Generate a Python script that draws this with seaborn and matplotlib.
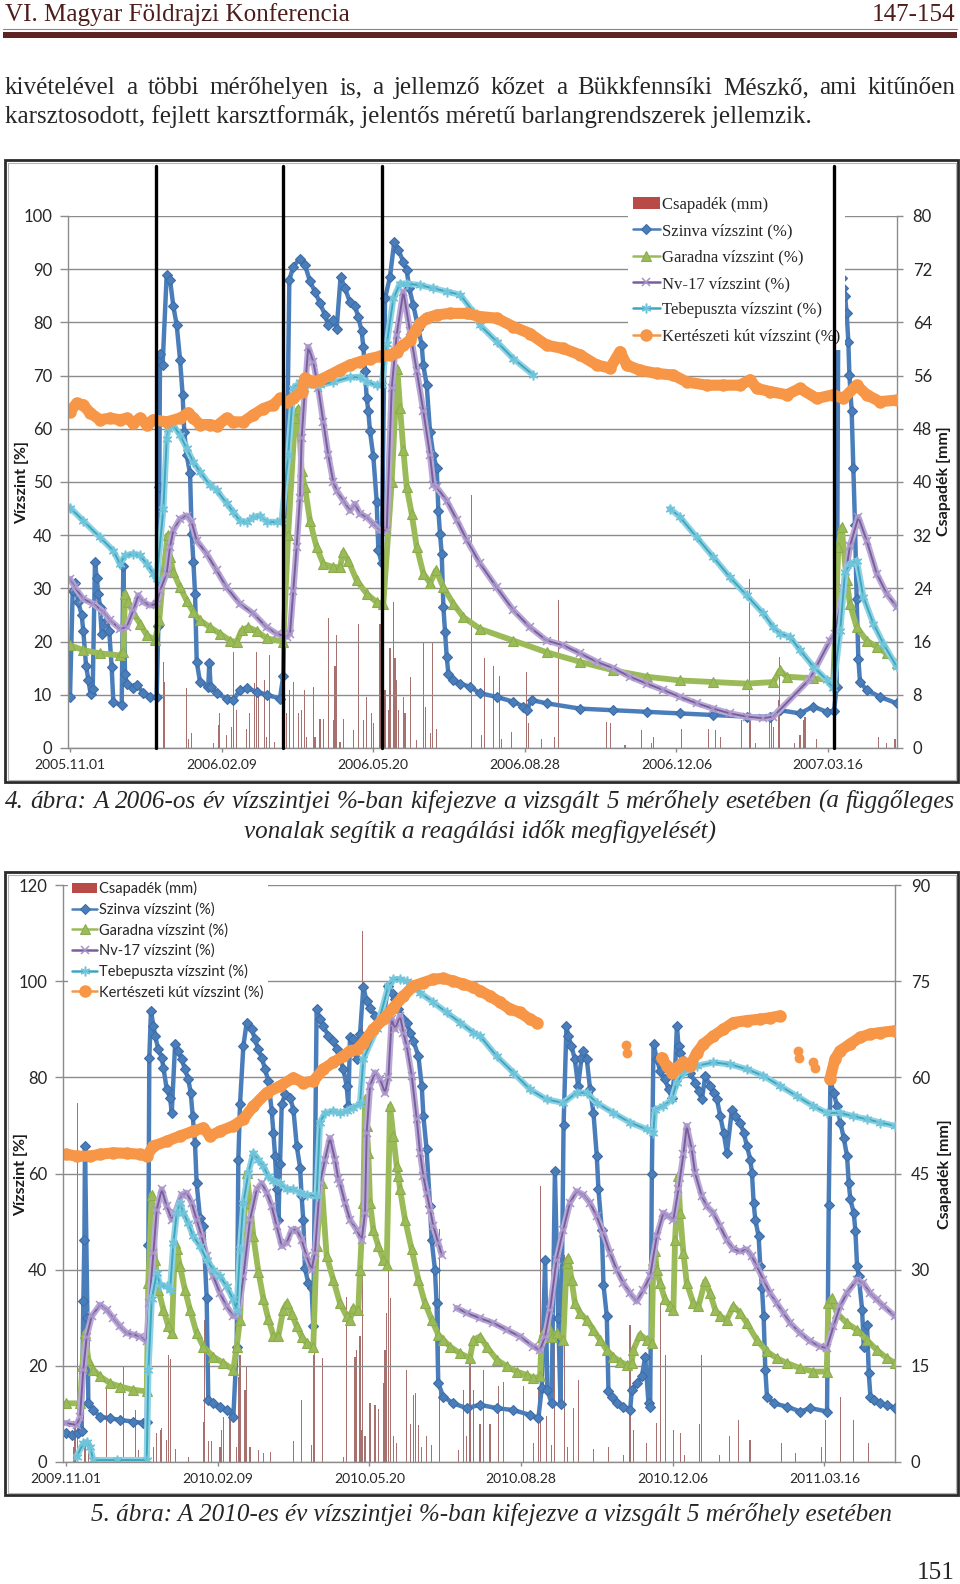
import matplotlib
matplotlib.use('Agg')
import matplotlib.pyplot as plt
import seaborn as sns
from matplotlib.lines import Line2D
from matplotlib.patches import Patch, Rectangle

# ---------------- page text ----------------
header_left = 'VI. Magyar Földrajzi Konferencia'
header_right = '147-154'
body_lines = ['kivételével a többi mérőhelyen is, a jellemző kőzet a Bükkfennsíki Mészkő, ami kitűnően',
              'karsztosodott, fejlett karsztformák, jelentős méretű barlangrendszerek jellemzik.']
caption4 = ['4. ábra: A 2006-os év vízszintjei %-ban kifejezve a vizsgált 5 mérőhely esetében (a függőleges',
            'vonalak segítik a reagálási idők megfigyelését)']
caption5 = '5. ábra: A 2010-es év vízszintjei %-ban kifejezve a vizsgált 5 mérőhely esetében'
page_number = '151'

# ---------------- chart data ----------------
# x = days after the first tick date, series in %, precipitation in mm
tick_days = [0, 100, 200, 300, 400, 500]
ticks_2006 = ['2005.11.01', '2006.02.09', '2006.05.20', '2006.08.28', '2006.12.06', '2007.03.16']
ticks_2010 = ['2009.11.01', '2010.02.09', '2010.05.20', '2010.08.28', '2010.12.06', '2011.03.16']
legend_labels = ['Csapadék (mm)', 'Szinva vízszint (%)', 'Garadna vízszint (%)', 'Nv-17 vízszint (%)',
                 'Tebepuszta vízszint (%)', 'Kertészeti kút vízszint (%)']
reaction_days_2006 = [56.5, 140.7, 206, 504]

szinva_2006 = [(0,9.5),(1.8,29.6),(3.3,31),(5.5,27.4),(7.7,25),(8.8,22),(10.6,15.5),(12.1,12.8),(13.6,10.2),(15,11),
    (16.5,35),(17.6,32),(18.7,29),(19.8,26.5),(20.9,21.5),(24.2,24),(25.9,22),(27.5,15.2),(28.6,8.7),(34.1,8),
    (35.2,34.3),(36.3,14),(37.4,12),(41.8,11.2),(44.4,11.8),(48.4,10.3),(52.8,9.6),(57.2,9.5),(58.3,23),(58.9,49),
    (59.4,74),(61.1,72),(63.8,89),(66,88),(68.2,83),(70.4,79.5),(72.6,73),(74.3,66.4),(75.4,59.4),(77,55),
    (79.2,51.6),(80.3,40.2),(81.4,35),(82.5,29),(83.6,16.2),(85.8,12.4),(91.2,11.5),(91.9,15.9),(92.8,11.5),
    (96.7,10.3),(103.3,9.3),(107.7,9),(112.1,10.9),(116.5,11.2),(123.1,10.6),(129.7,10),(138.5,9.3),(140.7,13.6),
    (142.9,50),(144.7,88),(147.3,90.5),(151.7,92),(155,90.8),(158.3,87.7),(161.6,85.8),(164.9,83.6),(168.2,81.4),
    (170.4,79.5),(173.7,80.5),(175.9,78.8),(178.5,88.6),(181.4,86.4),(184.7,83.8),(188,83),(190.2,81),(192.4,78.3),
    (193.5,75.4),(194.6,70.9),(195.7,65.8),(196.8,63.3),(197.9,59.5),(200.1,54.8),(202.3,46.3),(203.4,37.2),
    (205.6,34.7),(207.8,84.5),(211.1,88.6),(213.9,95.2),(216.6,93.6),(219.9,91.4),(222.1,89.8),(223.8,86.4),
    (226.5,83.2),(229.8,78.8),(232,75.7),(233.1,71.9),(235.3,68.2),(237.5,59.4),(239.7,55),(241.9,52.6),(243,44.6),
    (244.1,40.2),(245.2,36.5),(246.3,26.5),(247.4,21.8),(248.5,17.1),(249.6,14),(252.9,12.8),(257.3,12.1),
    (263.9,11.5),(270.4,10.3),(281.4,9.6),(292.4,8.7),(299,7.8),(301.2,7.1),(304.5,9),(314.4,8.4),(336.4,7.4),
    (358.4,7.1),(380.4,6.8),(402.4,6.5),(424.3,6.2),(446.3,5.9),(461.7,5.9),(468.3,7.1),(481.5,6.5),(490.3,7.8),
    (499.1,6.8),(504,7),(505.7,11.5),(506.8,83.6),(509,88.3),(510.1,86.4),(511.2,85),(512.3,81.7),(513.4,76.4),
    (514.1,70.1),(515.6,63.3),(516.7,52.6),(517.8,42),(518.9,28),(520,16.8),(521.1,12.4),(525.5,10.9),(534.3,9.6),
    (545.3,8.4)]
garadna_2006 = [(0,19.3),(8.8,18.4),(19.8,17.8),(33,17.4),(35.2,18),(36.3,29),(38.5,27.4),(41.8,25.3),(46.2,23.4),
    (50.6,21.2),(56.1,20.3),(58.9,24),(61.6,33),(64.4,40),(66,35.9),(68.2,33),(72.6,30.2),(77,27.7),(81.4,25.5),
    (85.8,24),(92.3,22.7),(98.9,21.5),(105.5,20.2),(109.9,19.9),(113.2,22.1),(117.6,22.7),(123.1,22),(129.7,20.6),
    (140.7,20),(143.9,40),(148.4,62),(150.6,63.8),(152.8,52),(155,49),(158.3,42.7),(162.7,37.7),(167.1,34.6),
    (173.7,34),(178.1,34),(180.3,36.8),(183.6,35.2),(189.1,31.5),(195.7,29),(202.3,27.4),(206.7,27.1),(212.2,50),
    (215.9,71.3),(217.7,64),(219.9,56),(222.1,49),(225.4,44),(228.7,37.8),(233.1,32.8),(237.5,31),(241.4,33.4),
    (246.3,30.2),(252.9,27.1),(259.5,24.6),(270.4,22.4),(292.4,20.2),(314.4,18),(336.4,16.2),(358.4,14.6),
    (380.4,13.4),(402.4,12.7),(424.3,12.4),(446.3,12.1),(464,12.4),(468.3,14.6),(472.7,13.4),(490.3,13.1),
    (503.5,12.7),(506.8,37.7),(509,41.5),(512.3,31.5),(514.5,27),(518.9,22.7),(525.5,20.2),(532.1,19),(538.7,17.8),
    (545.3,15.9)]
nv17_2006 = [(0,31.8),(3.3,30.2),(8.8,28),(15.4,27.1),(22,25.6),(26.4,24),(33,22.4),(37.4,22.7),(41.8,25.9),
    (45.1,28.7),(48.4,27.4),(52.8,26.8),(57.2,27.1),(59.4,29.6),(63.8,32.8),(66,37.8),(68.2,40.9),(72.6,43.1),
    (77,43.7),(80.3,42.4),(83.6,39),(90.2,36.5),(96.7,33.4),(103.3,30.2),(112.1,27.1),(120.9,25.3),(129.7,22.7),
    (136.3,21.5),(142.9,20.9),(145.1,21.5),(147.3,29.6),(149.5,37.8),(151.7,47),(152.8,58.2),(155,67.6),(157.2,75.4),
    (160.5,72.6),(163.8,67.6),(167.1,61.3),(170.4,55),(173.7,50),(175.9,48.4),(180.3,46.5),(184.7,44.6),(188,45.9),
    (191.3,44),(195.7,43.4),(200.1,42.1),(204.5,40.9),(208.9,40.9),(212.2,67.6),(215.5,77.7),(219.9,85.8),
    (224.3,78.3),(228.7,70.9),(233.1,63.3),(237.5,55),(239.7,49.4),(241.9,49),(248.5,46.5),(255.1,42.9),
    (261.7,39.1),(270.4,34.7),(281.4,30.2),(292.4,25.9),(303.4,22.7),(314.4,20.2),(325.4,19.3),(336.4,17.8),
    (347.4,16.2),(358.4,15),(369.4,13.4),(380.4,12.1),(391.4,10.9),(402.4,9.6),(413.4,8.4),(424.3,7.4),(435.3,6.5),
    (446.3,5.9),(457.3,5.6),(463.9,5.9),(488.1,13),(501.3,20.2),(504.6,21.5),(510.1,30),(514.5,38),(520,43.4),
    (525.5,39),(532.1,32.8),(538.7,29),(545.3,26.5)]
tebe_2006_a = [(0,45.2),(8.8,42.7),(19.8,39.6),(28.6,37.1),(33,34.6),(36.3,36.2),(41.8,36.5),(46.2,36.2),
    (50.6,34.6),(55,32.8),(57.2,31.8),(61.6,45),(63.8,58),(64.9,60),(68.2,60.7),(72.6,58.8),(77,56.3),(81.4,53.8),
    (85.8,51.9),(92.3,49.4),(96.7,48.5),(103.3,46),(107.7,44.4),(112.1,42.7),(116.5,42.5),(120.9,43.4),(125.3,43.7),
    (129.7,42.5),(136.3,42.5),(139.6,42.7),(143.9,55),(147.3,67.6),(151.7,68.8),(156.1,68.2),(164.9,68.2),
    (173.7,68.8),(184.7,69.7),(191.3,69.7),(195.7,68.8),(202.3,68.2),(205.6,68.2),(209,76),(213.3,84.5),
    (217.7,87.3),(222.1,87.3),(230.9,87),(239.7,86.4),(248.5,85.8),(257.3,85.2),(266,82),(270.4,79.5),(281.4,76.4),
    (292.4,73.2),(305.6,70.1)]
tebe_2006_b = [(395.8,45),(402.4,43.4),(413.4,39.6),(424.3,35.9),(435.3,32.1),(446.3,28.7),(457.3,25.3),
    (463.9,22.7),(468.3,21.5),(474.9,20.9),(481.5,18.4),(490.3,15.3),(499.1,12.8),(503.5,11.2),(508,22),(511.2,33),
    (514.5,34.6),(519,35.2),(523.3,28.4),(529.9,23.4),(536.5,19.6),(545.3,15.3)]
kert_2006 = [(0,63.2),(4.4,64.8),(8.8,64.5),(13.2,63),(19.8,61.7),(26.4,62),(33,61.7),(37.4,62),(41.8,61.1),
    (46.2,62),(50.6,60.8),(55,61.7),(63.8,61.3),(72.6,62),(78.1,63),(81.4,62),(85.8,60.8),(92.3,60.8),(96.7,60.5),
    (103.3,62),(107.7,61.3),(114.3,61.3),(120.9,62.6),(127.5,63.8),(134.1,64.5),(138.5,65.7),(142.9,65),
    (147.3,65.7),(152.8,67),(155,69.5),(160.5,68.8),(164.9,69.2),(171.5,70.1),(178.1,71.1),(184.7,72),(191.3,72.6),
    (197.9,73.2),(204.5,73.6),(211.1,73.9),(215.5,74.5),(219.9,75.7),(224.3,76.7),(227.6,78.3),(230.9,79.8),
    (235.3,80.8),(241.9,81.4),(250.7,81.7),(261.7,81.7),(270.4,81.1),(281.4,80.8),(292.4,79.2),(303.4,77.9),
    (314.4,75.7),(325.4,75.1),(336.4,73.9),(347.4,72),(356.2,71.4),(362.8,74.5),(367.2,72),(376,71),(387,70.4),
    (398,70.1),(406.8,68.8),(420,68.2),(431,68.2),(442,68.2),(448.6,69.2),(453,67.6),(461.8,67),(472.8,66.4),
    (481.5,67.6),(492.5,65.7),(503.5,66.4),(510.1,65.7),(518.9,68.2),(525.5,66.4),(534.3,65.1),(545.3,65.4)]
rain_2006 = [(61.6,13.0),(62.2,9.9),(77.0,9.0),(78.1,1.4),(80.3,2.2),(94.5,0.7),(97.8,3.4),(98.9,5.2),(103.3,2.0),
    (106.6,3.2),(107.7,14.5),(109.9,5.7),(116.5,2.9),(118.7,5.2),(122.0,9.7),(123.1,14.5),(124.2,7.7),(128.6,10.2),
    (129.7,1.7),(131.9,14.0),(135.2,0.9),(142.9,5.2),(145.1,8.7),(147.3,9.9),(150.6,5.2),(152.8,5.7),(155.0,8.7),
    (156.1,1.7),(160.5,9.2),(161.6,1.7),(164.9,4.4),(167.1,4.4),(170.4,19.5),(173.7,4.2),(174.8,12.4),(175.9,17.0),
    (178.1,0.9),(180.3,4.4),(186.9,2.7),(190.2,18.7),(193.5,4.2),(195.7,7.7),(199.0,5.2),(200.1,3.7),(204.5,18.7),
    (207.8,8.7),(210.0,5.7),(211.1,15.0),(213.3,22.0),(214.4,13.5),(215.5,10.2),(216.6,5.7),(219.9,7.7),(221.0,5.2),
    (224.3,10.7),(228.7,1.2),(233.1,16.0),(234.2,6.2),(237.5,2.2),(239.0,16.0),(241.9,2.9),(264.9,38.0),(271.5,1.9),
    (273.7,13.5),(279.2,12.4),(283.6,10.9),(284.7,1.4),(291.3,2.4),(301.2,11.5),(302.3,3.7),(311.1,1.4),(319.9,1.7),
    (322.1,22.2),(354.0,3.9),(356.6,3.7),(366.1,0.4),(377.1,2.7),(383.7,0.7),(384.8,1.7),(403.5,2.9),(421.1,2.9),
    (425.5,2.7),(428.8,1.7),(443.1,4.2),(448.2,25.4),(448.6,4.2),(451.9,0.7),(461.7,4.2),(462.8,4.7),(463.9,3.2),
    (467.2,7.2),(468.3,13.7),(478.2,0.7),(481.5,1.9),(483.7,4.2),(484.8,4.7),(492.5,1.4),(503.5,2.7),(533.2,1.7),
    (538.7,0.7),(544.2,1.4)]

szinva_2010 = [(0,6),(3.7,5.6),(8.1,6),(10.3,6.5),(11.4,33.4),(12.1,46.2),(12.5,65.7),(14.1,30),(14.7,12.2),
    (18,10.8),(22.4,9.4),(29,9.1),(35.6,8.75),(44.4,8.4),(51,8.1),(53.2,8.4),(54.3,45.2),(54.9,84),(56,93.8),
    (57.6,90.7),(58.7,88.6),(60.9,85.8),(63.1,84.1),(64.2,82),(66.4,77.5),(68.6,75.8),(69.7,72.6),(71.9,86.9),
    (74,85.5),(76.2,83.8),(78.4,81.7),(80.6,79.6),(82.2,76.8),(83.5,71.9),(85,66.4),(86.1,58),(88.3,50.8),(90.5,49),
    (92.7,34.1),(93.8,12.9),(97.1,12.2),(101.5,11.5),(105.9,10.8),(110.3,9.4),(112.5,24),(113.6,62.9),(114.7,74.4),
    (116.9,86.5),(119.1,91.4),(122.4,90),(124.6,87.9),(126.8,85.8),(129,84.1),(131.2,81.7),(133.4,79.2),(135.6,73),
    (136.7,68.5),(137.8,63.6),(138.9,56.7),(140,50.4),(141.1,62),(142.2,74.4),(144.4,76.5),(147.7,75.8),(149.9,73.3),
    (152.1,65.7),(154.3,61.2),(155.3,55.3),(156.4,50.4),(157.5,40.3),(159.7,37.2),(161.9,36.2),(163,28.2),
    (165.2,94.2),(167.4,92.1),(169.6,90.7),(172.9,88.6),(176.2,87.6),(178.4,85.8),(180.6,83.8),(182.8,81.7),
    (185,78.2),(186.1,74),(187.2,88.3),(189.4,87.9),(191.6,83.8),(193.8,89),(196,98.7),(198.2,95.9),(200.4,94.5),
    (203.7,92.8),(207,91.4),(209.2,92.4),(212.5,99),(214.7,97.6),(216.9,96.2),(219.1,94.2),(222.4,92.1),(224.6,91.4),
    (226.8,89.3),(229,87.6),(232.3,84.4),(234.5,78.2),(235.6,71.9),(237.7,65),(240,53.2),(241,46.2),(243.2,40),
    (244.3,33),(245.4,16.4),(248.7,13.6),(255.3,12.2),(264.1,11.2),(272.9,11.9),(283.9,11.2),(294.9,10.8),
    (305.8,9.8),(311.4,9.1),(313.6,15.3),(315.8,42),(317.3,15),(320.1,12.2),(322.3,60.5),(324.5,30),(326,12),
    (328,70),(329.9,90.7),(331,88.6),(333.2,86.5),(335.4,83.8),(337.6,78.2),(339.8,84),(341.1,85.5),(343.3,83.8),
    (345.5,77.5),(347.7,72.6),(349.9,63.6),(351,56.7),(353.2,48.3),(354.3,36.9),(356.5,30.3),(357.6,14.7),
    (359.8,13.6),(363.1,12.2),(367.5,11.5),(371.9,10.8),(373,15),(376.3,16.4),(379.6,17.8),(381.8,21.9),(384,12.2),
    (385.1,11.5),(386.2,60),(387.3,86.9),(389.5,83.8),(391.7,81.3),(395,79.6),(397.2,77.5),(399.4,75.8),(401.6,82),
    (402.7,90.7),(403.8,86.5),(404.9,85.1),(407.1,83.4),(409.3,82.4),(411.5,81),(414.8,78.9),(417,77.2),(419.2,75.4),
    (421.4,80.3),(424.7,78.2),(426.9,76.8),(429.1,75.4),(431.3,71.9),(433.5,68.5),(435.7,64.3),(439,73.3),
    (441.2,71.9),(444.5,70.6),(446.7,68.5),(448.9,65.7),(451.1,62.9),(452.2,60.1),(453.3,53.9),(454.4,50.4),
    (456.6,46.9),(457.7,40.7),(458.8,36.2),(459.9,30.3),(461,19.2),(462.1,13.6),(466.5,12.2),(475.3,11.5),
    (484.1,10.5),(490.7,11.2),(501.7,10.5),(502.8,53.5),(503.9,79.2),(506.1,76.8),(508.3,74),(510.5,70.6),
    (512.7,67.4),(514.9,63.6),(516,58),(517.1,54.6),(519.3,51.8),(520.4,48),(521.5,40.7),(522.6,38.6),(524.8,31.7),
    (525.9,24),(528.1,28.5),(529.2,18.5),(530.3,13.6),(532.5,12.9),(536.9,12.2),(541.3,11.9),(546.6,11.2)]
garadna_2010 = [(0,12.2),(9.2,12.2),(10.8,20),(12.5,26.8),(14.7,21.3),(18,19.2),(22.4,17.8),(29,16.4),(35.6,15.7),
    (44.4,15),(53.2,14.7),(54.3,37.2),(56.5,55.6),(58.7,42.1),(60.9,35.8),(64.2,31.7),(67.5,28.2),(69.7,26.8),
    (71.9,45.6),(73,44.2),(75.1,40.7),(78.4,35.8),(81.7,31.7),(86.1,26.8),(90.5,24),(97.1,21.9),(103.7,20.6),
    (110.3,19.2),(112.5,24),(114.7,29.6),(116.9,46.9),(119.1,60.1),(121.3,53.9),(123.5,46.9),(126.8,39.6),
    (130.1,34),(133.4,29.7),(136.7,26.3),(140,26.3),(143.3,31.7),(145.5,33),(148.8,30.8),(152.1,28.2),(155.3,26.1),
    (158.6,24.7),(163,24),(165.2,45),(168.5,58),(171.8,42.8),(176.2,37.9),(180.6,33),(185,30.3),(187.2,29.6),
    (189.4,32),(192.7,31.7),(193.8,40),(196,53.9),(197.1,75.4),(198.2,69.9),(199.3,64.3),(200.4,53.9),(202.6,48.3),
    (205.9,44.9),(209.2,42.1),(211.4,41),(213.6,74),(215.8,67.8),(218,61.5),(219.1,59.4),(220.2,56.7),(223.5,50.4),
    (227.9,44.2),(232.3,37.9),(236.7,33),(241,29.6),(245.4,26.5),(248.7,25.4),(253.1,24),(259.7,22.6),(266.3,21.6),
    (268.5,25.4),(272.9,26.1),(277.3,24),(283.9,21.3),(290.5,19.9),(297.1,18.8),(303.7,18.1),(308.1,17.4),
    (312.5,17.8),(313.6,26.1),(318,28.2),(320.1,26.1),(323.4,26.8),(327.8,25.4),(330,41.4),(331.1,42.4),(333.3,37.9),
    (335.5,33),(338.8,31),(343.2,29.6),(347.6,27.5),(352,25.4),(356.4,23.3),(360.8,21.9),(365.2,20.9),(369.6,20.2),
    (372.9,20.6),(374,23.3),(378.4,26.5),(382.8,25.4),(386.1,24.7),(387.2,42.1),(388.3,43.8),(389.4,40),(391.6,37.2),
    (394.9,33.8),(398.2,32.4),(400.4,31.7),(401.5,46.2),(403.7,59.4),(404.8,51.8),(407,43.5),(409.2,37.2),(413.6,33),
    (416.9,32.4),(421.3,37.6),(424.6,35.1),(427.9,31.7),(431.2,30.3),(435.6,29.6),(440,32.4),(444.4,31),(448.8,28.9),
    (455.4,25.4),(461.9,23),(468.5,21.6),(475.1,20.6),(483.9,19.5),(492.7,18.8),(501.5,18.8),(502.6,33),(504.8,34.1),
    (508.1,31),(514.7,28.9),(521.3,27.5),(527.9,25.4),(534.5,23.3),(541.1,21.6),(546.6,20.6)]
nv17_2010_a = [(0,8.1),(7,7.7),(9.2,9.4),(11.4,19.2),(13.6,26.1),(16.9,30.3),(22.4,32.7),(26.8,31.7),(31.2,29.9),
    (35.6,28.2),(40,26.8),(44.4,26.5),(48.8,26.1),(53.2,25.1),(54.9,33),(57.6,43.5),(59.8,52.5),(63.1,56.7),
    (66.4,53.2),(69.7,50.4),(71.9,51.8),(76.2,55.6),(79.5,56),(82.8,53.9),(86.1,50.4),(89.4,46.9),(92.7,42.8),
    (97.1,38.6),(101.5,35.1),(105.9,32.4),(110.3,30.3),(113.6,31),(116.9,38.6),(121.3,50.4),(125.7,56.7),(129,58),
    (132.3,56),(135.6,53.2),(138.9,49),(142.2,44.9),(145.5,45.6),(148.8,48.3),(152.1,48.3),(155.3,46.2),(158.6,42.8),
    (161.9,40),(164.1,43.5),(167.4,58),(170.7,62.9),(174,67.4),(177.3,62.9),(179.5,58.8),(180.6,58),(183.9,53.9),
    (187.2,50.4),(191.6,48.3),(194.9,46.2),(197.1,51.8),(198.2,68.5),(200.4,78.2),(203.7,81),(207,79.6),(210.3,76.8),
    (212.5,80),(214.7,92.1),(216.9,90),(220.2,92.8),(222.4,89.3),(224.6,86.5),(227.9,80.3),(231.2,71.3),(233.4,64.3),
    (235.6,59.4),(237.7,56),(240,52.5),(242.2,49),(245.4,45.6),(247.6,43.1)]
nv17_2010_b = [(257.5,32),(264.1,31),(272.9,29.9),(281.7,28.9),(290.5,27.5),(299.3,26.1),(308.1,24),(312.5,23.3),
    (315.8,26.1),(319.1,31.7),(323.4,42.1),(327.8,48.3),(332.2,53.9),(336.6,56.3),(341,55.6),(345.4,53.9),
    (349.8,51.1),(354.2,47.6),(358.6,43.5),(363,40),(367.4,37.2),(371.8,35.1),(376.2,33.4),(380.6,35.8),(385,38.6),
    (389.4,46.9),(393.8,51.8),(397.1,51.1),(400.4,50.4),(403.7,56.7),(407,64),(409.2,69.9),(412.5,65),(414.7,60.1),
    (419.1,55.3),(422.4,53.2),(426.8,51.8),(431.2,49),(435.6,46.2),(440,44.2),(444.4,43.8),(448.8,44.2),(452.1,42.8),
    (455.4,40.7),(459.8,37.9),(464.2,35.1),(468.6,33),(473,31),(477.4,28.9),(484,26.8),(490.6,25.1),(497.2,24),
    (501.5,23.7),(505.9,28.2),(510.3,32.4),(514.7,35.1),(521.3,37.9),(525.7,37.2),(530.1,35.1),(534.5,33.8),
    (538.9,32.4),(546.6,30.3)]
tebe_2010 = [(7,1.1),(11.4,3.9),(13.6,4.2),(15.8,3.2),(18,0.4),(33.4,0.4),(53.2,0.4),(54.3,19.2),(56.5,33.8),
    (59.8,39.3),(62,36.9),(66.4,36.5),(68.6,35.8),(70.8,45.6),(73,51.8),(75.1,53.9),(77.3,51.8),(80.6,49.7),
    (83.9,46.9),(88.3,44.9),(92.7,42.1),(97.1,40),(101.5,38.6),(105.9,36.5),(110.3,33.8),(112.5,31.7),(114.7,44.2),
    (116.9,53.9),(120.2,60.1),(123.5,64.3),(126.8,62.9),(130.1,61.5),(133.4,59.4),(136.7,58.5),(141.1,58),
    (145.5,56.7),(149.9,56.7),(154.3,56),(158.6,55.6),(165.2,55.3),(167.4,70.6),(170.7,72.6),(176.2,73),(180.6,72.6),
    (185,73),(189.4,73.7),(193.8,74.4),(196,83.8),(204.8,90),(212.5,99),(215.8,100.4),(220.2,100.4),(224.6,100),
    (229,99),(233.4,97.6),(242.1,95.6),(250.9,93.5),(259.7,91.4),(268.5,89.3),(272.9,88.6),(283.9,84.4),(294.9,81),
    (305.8,77.5),(316.8,75.4),(327.8,74.7),(336.6,76.8),(343.2,76.8),(349.8,74.7),(360.8,72.6),(371.8,70.6),
    (382.8,69.2),(387.2,68.5),(388.3,73.3),(393.8,74),(399.3,75.4),(402.6,78.9),(407,81),(415.8,82.4),(426.8,83.1),
    (437.8,82.7),(448.8,81.7),(459.8,80.3),(470.8,78.2),(481.8,76.1),(492.7,74),(501.5,72.6),(510.3,72.6),
    (519.1,71.9),(527.9,71.3),(536.7,70.6),(546.6,69.9)]
kert_2010_a = [(0,64),(7,63.6),(15.8,63.6),(22.4,64),(31.2,64.3),(40,64.2),(48.8,64),(53.2,63.6),(57.6,65.7),
    (66.4,66.7),(75.1,67.8),(83.9,68.8),(90.5,69.5),(94.9,67.8),(101.5,68.8),(110.3,69.9),(116.9,71.3),(123.5,74),
    (132.3,76.8),(141.1,78.2),(149.9,79.9),(156.4,78.9),(163,79.2),(169.6,81.7),(176.2,83.1),(182.8,84.4),
    (187.2,85.5),(191.6,85.8),(196,87.2),(202.6,90),(209.2,92.1),(215.8,94.5),(222.4,96.9),(229,99),(235.6,99.7),
    (242.1,100.4),(248.7,100.6),(255.3,100),(261.9,99.4),(268.5,98.7),(272.9,98),(279.5,96.9),(286.1,95.6),
    (292.7,94.2),(299.3,93.5),(305.8,92.1),(310.2,91.4)]
kert_2010_b = [(392.7,84.1),(396,82.4),(399.3,81),(402.6,82),(407,83.1),(411.4,82.4),(415.8,85.1),(420.2,86.9),
    (426.8,88.6),(433.4,90),(440,91.4),(448.8,91.8),(457.6,92.1),(464.2,92.4),(470.8,92.8)]
kert_2010_c = [(503.6,79.6),(506.9,83.8),(510.2,85.5),(516.8,86.9),(523.4,88.3),(530,89),(536.6,89.3),(546.6,89.7)]
kert_2010_dots = [(368.9,86.8),(370.1,85),(482.7,85.5),(483.3,84.1),(492.7,83.1),(493.8,82)]
rain_2010 = [(4.8,2.4),(5.9,6.0),(7.5,56.0),(12.5,2.9),(14.7,2.4),(26.8,11.8),(37.8,14.9),(45.5,8.1),(47.7,1.9),
    (53.2,6.0),(57.6,2.4),(59.8,4.5),(62,5.0),(63.1,5.3),(66.4,3.5),(67.5,16.7),(68.6,16.0),(71.9,2.1),(80.6,0.8),
    (90.5,6.3),(91.2,22.2),(93.8,3.2),(96,3.2),(101.5,2.4),(102.6,5.0),(103.7,7.0),(108.1,7.0),(112.5,2.4),
    (113.6,13.3),(114.7,16.7),(118,11.2),(119.1,14.9),(121.3,2.4),(126.8,1.9),(130.1,1.4),(134.5,1.6),(149.9,3.2),
    (155.3,9.7),(161.9,2.7),(163,16.7),(164.1,46.5),(169.2,16.2),(182.8,0.8),(185,25.8),(190.5,16.4),(191.6,17.5),
    (193.8,19.6),(194.9,5.0),(195.6,82.9),(197.1,4.0),(200.4,9.2),(203.7,8.9),(205.9,8.3),(209.2,12.3),(210.3,17.5),
    (211.4,23.2),(212.5,30.0),(213.6,25.6),(215.8,4.0),(218,3.0),(224.6,14.4),(226.8,6.0),(229,10.5),(230.1,10.7),
    (232.3,5.8),(234.5,2.4),(237.7,4.0),(241,2.7),(246.5,36.3),(258.6,1.9),(261.9,11.2),(264.1,4.0),(266.3,18.5),
    (268.5,11.2),(272.9,6.0),(275.1,14.4),(279.5,6.0),(284.9,11.8),(288.2,12.5),(301.4,11.8),(308.1,3.0),
    (311.4,11.5),(313.1,43.0),(316.8,7.1),(320.1,2.6),(322.3,18.5),(328.5,32.3),(330.5,2.4),(334.5,8.4),(337.8,12.8),
    (347.6,2.1),(357.5,2.4),(367.4,1.1),(371.8,21.4),(374,5.0),(382.8,2.9),(389.4,6.1),(391.6,24.8),(394.9,16.7),
    (400.4,5.0),(404.8,4.5),(408,1.1),(417.9,6.0),(419,16.7),(431.1,1.1),(437.7,4.0),(443.2,6.5),(450.9,3.4),
    (471.8,2.9),(480.6,1.4),(498.2,2.4),(500.4,6.5),(510.3,10.2),(519.1,6.5),(529,2.9)]

# ---------------- styles ----------------
W, H = 960, 1584
GRID = '#8c8c8c'
TXT = '#262626'
MAROON = '#4f1c1c'
RAIN_C = '#a6716f'
SERIF = ['Liberation Serif', 'DejaVu Serif']
# dense daily markers in the original read as a band: a wide line under a thinner marked line
band = {
    'szinva': dict(color='#4a7ebb', linewidth=3.2),
    'garadna': dict(color='#9bbb59', linewidth=4.2),
    'nv17': dict(color='#b9a9d6', linewidth=4.5),
    'tebe': dict(color='#8fd2e4', linewidth=4.5),
    'kert': dict(color='#f79646', linewidth=8),
}
style = {
    'szinva': dict(color='#4a7ebb', marker='D', markersize=5, linewidth=1.5,
                   markerfacecolor='#4a7ebb', markeredgecolor='#3e6ca6', markeredgewidth=0.8),
    'garadna': dict(color='#9bbb59', marker='^', markersize=7, linewidth=1.8,
                    markerfacecolor='#9bbb59', markeredgecolor='#8cad4b', markeredgewidth=0.8),
    'nv17': dict(color='#7a5e9c', marker='x', markersize=6, linewidth=1.4,
                 markeredgecolor='#a893c8', markeredgewidth=1.1),
    'tebe': dict(color='#3fa6c0', marker=(6, 2, 0), markersize=7, linewidth=1.4,
                 markeredgecolor='#6fc4da', markeredgewidth=1.1),
    'kert': dict(color='#f79646', marker='o', markersize=9, linewidth=4,
                 markerfacecolor='#f79646', markeredgecolor='#f79646', markeredgewidth=0),
}

sns.set_theme(style='white')
plt.rcParams['font.family'] = ['Lato', 'DejaVu Sans']

fig = plt.figure(figsize=(W / 100, H / 100), dpi=100)
renderer = fig.canvas.get_renderer()


def fx(x):
    return x / W


def fy(y):
    return 1 - y / H


def fit_size(s, width, **kw):
    t = fig.text(0, 0, s, fontsize=10, family=SERIF, **kw)
    size = 10 * width / t.get_window_extent(renderer).width
    t.remove()
    return size


def justify(s, x0, x1, y, size, **kw):
    words = s.split()
    texts = [fig.text(0, fy(y), w, fontsize=size, va='baseline', family=SERIF, **kw) for w in words]
    widths = [t.get_window_extent(renderer).width for t in texts]
    gap = (x1 - x0 - sum(widths)) / (len(words) - 1)
    x = x0
    for t, w in zip(texts, widths):
        t.set_x(fx(x))
        x += w + gap


def draw(ax, pts, key):
    xs = [p[0] for p in pts]
    ys = [p[1] for p in pts]
    sns.lineplot(x=xs, y=ys, ax=ax, estimator=None, sort=False, legend=False, **band[key])
    sns.lineplot(x=xs, y=ys, ax=ax, estimator=None, sort=False, legend=False, **style[key])


def make_chart(box):
    x0, y0, x1, y1 = box
    ax = fig.add_axes([fx(x0), fy(y1), (x1 - x0) / W, (y1 - y0) / H])
    rax = ax.twinx()
    ax.set_zorder(rax.get_zorder() + 1)
    ax.patch.set_visible(False)
    return ax, rax


def finish(ax, rax, xlim, ylim, yticks, rlim, rticks, labels):
    ax.set_xlim(*xlim)
    ax.set_ylim(*ylim)
    rax.set_ylim(*rlim)
    ax.set_xticks(tick_days)
    ax.set_xticklabels(labels)
    ax.set_yticks(yticks)
    rax.set_yticks(rticks)
    ax.set_xlabel('')
    ax.set_ylabel('')
    rax.set_ylabel('')
    ax.grid(axis='y', color=GRID, linewidth=1)
    ax.grid(axis='x', visible=False)
    for s in ['top', 'right']:
        ax.spines[s].set_visible(False)
    for s in ['left', 'bottom']:
        ax.spines[s].set_color(GRID)
        ax.spines[s].set_linewidth(1)
    for s in ['top', 'left', 'bottom']:
        rax.spines[s].set_visible(False)
    rax.spines['right'].set_color(GRID)
    rax.spines['right'].set_linewidth(1)
    ax.tick_params(axis='y', left=True, length=5.5, width=1, color=GRID, pad=6, labelsize=12, labelcolor=TXT)
    ax.tick_params(axis='x', bottom=True, length=3, width=1, color=GRID, pad=5, labelsize=10, labelcolor=TXT)
    rax.tick_params(axis='y', right=True, length=4.3, width=1, color=GRID, pad=7, labelsize=12, labelcolor=TXT)


def legend_handles():
    hs = [Patch(facecolor='#b84a47', edgecolor='none', label=legend_labels[0])]
    for key, lab in zip(['szinva', 'garadna', 'nv17', 'tebe', 'kert'], legend_labels[1:]):
        st = dict(style[key])
        st['linewidth'] = 1.8
        hs.append(Line2D([], [], label=lab, **st))
    return hs


# ---------------- page furniture ----------------
# one serif size for the whole page, taken from the header width
ps = fit_size(header_left, 346)
fig.text(fx(5), fy(21), header_left, va='baseline', fontsize=ps, family=SERIF, color=MAROON)
fig.text(fx(955), fy(21), header_right, ha='right', va='baseline', fontsize=ps, family=SERIF, color=MAROON)
fig.add_artist(Line2D([fx(3), fx(957)], [fy(28.5), fy(28.5)], color='#a27a7a', linewidth=0.8))
fig.add_artist(Rectangle((fx(3), fy(37.5)), fx(954), 6 / H, color='#5e2424', linewidth=0))

justify(body_lines[0], 5, 955, 94, ps)
fig.text(fx(5), fy(123), body_lines[1], va='baseline', fontsize=ps, family=SERIF)

justify(caption4[0], 5, 955, 808, ps, style='italic')
fig.text(fx(480), fy(838), caption4[1], ha='center', va='baseline', fontsize=ps, style='italic', family=SERIF)
fig.text(fx(492), fy(1521), caption5, ha='center', va='baseline', fontsize=ps, style='italic', family=SERIF)
fig.text(fx(955), fy(1579), page_number, ha='right', va='baseline', fontsize=ps, family=SERIF)

for top, bottom in [(160, 782), (872, 1495)]:
    fig.add_artist(Rectangle((fx(5), fy(bottom)), fx(953), (bottom - top) / H, fill=False,
                             edgecolor='#2b2b2b', linewidth=2))
    fig.add_artist(Rectangle((fx(7.5), fy(bottom - 2.5)), fx(948), (bottom - top - 5) / H, fill=False,
                             edgecolor='#b5b5b5', linewidth=0.8))

# ---------------- chart 1: 2006 ----------------
ax1, r1 = make_chart((68, 216, 897, 748))
r1.bar([p[0] for p in rain_2006], [p[1] for p in rain_2006], width=0.7, color=RAIN_C, linewidth=0)
draw(ax1, szinva_2006, 'szinva')
draw(ax1, garadna_2006, 'garadna')
draw(ax1, nv17_2006, 'nv17')
draw(ax1, tebe_2006_a, 'tebe')
draw(ax1, tebe_2006_b, 'tebe')
draw(ax1, kert_2006, 'kert')
finish(ax1, r1, (-1.3, 545.5), (0, 100), range(0, 101, 10), (0, 80), range(0, 81, 8), ticks_2006)
for d in reaction_days_2006:
    ax1.axvline(d, ymin=0, ymax=1.094, color='black', linewidth=2.4, clip_on=False, zorder=6)
ax1.legend(handles=legend_handles(), loc='upper left', bbox_to_anchor=(fx(628), fy(192)),
           bbox_transform=fig.transFigure, frameon=True, facecolor='white', edgecolor='none', framealpha=1,
           fancybox=False, borderpad=0.3, borderaxespad=0, handlelength=1.6, handletextpad=0.15,
           labelspacing=0.62, prop={'family': SERIF, 'size': 12})
fig.text(fx(22), fy(482), 'Vízszint [%]', rotation=90, ha='center', va='center', fontsize=11.5,
         fontweight='bold', color='#1a1a1a')
fig.text(fx(944), fy(481), 'Csapadék [mm]', rotation=90, ha='center', va='center', fontsize=11.5,
         fontweight='bold', color='#1a1a1a')

# ---------------- chart 2: 2010 ----------------
ax2, r2 = make_chart((63, 885, 895, 1462))
r2.bar([p[0] for p in rain_2010], [p[1] for p in rain_2010], width=0.7, color=RAIN_C, linewidth=0)
draw(ax2, szinva_2010, 'szinva')
draw(ax2, garadna_2010, 'garadna')
draw(ax2, nv17_2010_a, 'nv17')
draw(ax2, nv17_2010_b, 'nv17')
draw(ax2, tebe_2010, 'tebe')
draw(ax2, kert_2010_a, 'kert')
draw(ax2, kert_2010_b, 'kert')
draw(ax2, kert_2010_c, 'kert')
sns.scatterplot(x=[p[0] for p in kert_2010_dots], y=[p[1] for p in kert_2010_dots], ax=ax2,
                color='#f79646', s=50, linewidth=0, legend=False, zorder=3)
finish(ax2, r2, (-2, 546.5), (0, 120), range(0, 121, 20), (0, 90), range(0, 91, 15), ticks_2010)
ax2.legend(handles=legend_handles(), loc='upper left', bbox_to_anchor=(fx(68), fy(877)),
           bbox_transform=fig.transFigure, frameon=True, facecolor='white', edgecolor='none', framealpha=1,
           fancybox=False, borderpad=0.3, borderaxespad=0, handlelength=1.7, handletextpad=0.15,
           labelspacing=0.42, prop={'family': ['Lato', 'DejaVu Sans'], 'size': 10.5})
fig.text(fx(21), fy(1174), 'Vízszint [%]', rotation=90, ha='center', va='center', fontsize=11.5,
         fontweight='bold', color='#1a1a1a')
fig.text(fx(945), fy(1174), 'Csapadék [mm]', rotation=90, ha='center', va='center', fontsize=11.5,
         fontweight='bold', color='#1a1a1a')

fig.savefig('out.png', dpi=100, facecolor='white')
